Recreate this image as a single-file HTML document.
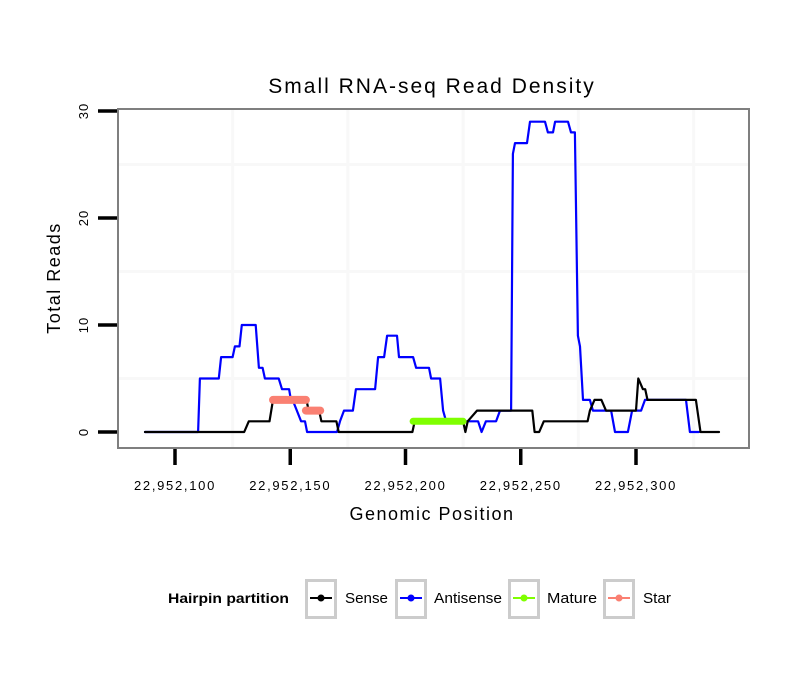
<!DOCTYPE html>
<html><head><meta charset="utf-8"><style>
body{margin:0;background:#fff;}
svg text{font-family:"Liberation Sans",sans-serif;}
</style></head><body>
<svg id="chart" width="810" height="690" viewBox="0 0 810 690" xmlns="http://www.w3.org/2000/svg">
<rect width="810" height="690" fill="#fff"/>
<text x="432" y="93" font-size="21" letter-spacing="2" text-anchor="middle">Small RNA-seq Read Density</text>
<g id="grid"></g>
<g id="series"></g>
<rect x="118" y="109" width="631" height="339" fill="none" stroke="#7f7f7f" stroke-width="2"/>
<g id="axes"></g>
<text x="432" y="520" font-size="18" letter-spacing="1.5" text-anchor="middle">Genomic Position</text>
<text transform="translate(60,278) rotate(-90)" font-size="18" letter-spacing="1.5" text-anchor="middle">Total Reads</text>
<g>
<text x="168" y="603" font-size="14" font-weight="bold" textLength="121" lengthAdjust="spacingAndGlyphs">Hairpin partition</text>
<g><rect x="306.5" y="580.5" width="29" height="37" fill="#fff" stroke="#ccc" stroke-width="3"/><line x1="310" y1="598" x2="332" y2="598" stroke="#000" stroke-width="2"/><circle cx="321" cy="598" r="3.5" fill="#000"/><text x="345" y="603" font-size="15" textLength="43" lengthAdjust="spacingAndGlyphs">Sense</text></g>
<g><rect x="396.5" y="580.5" width="29" height="37" fill="#fff" stroke="#ccc" stroke-width="3"/><line x1="400" y1="598" x2="422" y2="598" stroke="#0000ff" stroke-width="2"/><circle cx="411" cy="598" r="3.5" fill="#0000ff"/><text x="434" y="603" font-size="15" textLength="68" lengthAdjust="spacingAndGlyphs">Antisense</text></g>
<g><rect x="509.5" y="580.5" width="29" height="37" fill="#fff" stroke="#ccc" stroke-width="3"/><line x1="513" y1="598" x2="535" y2="598" stroke="#7fff00" stroke-width="2"/><circle cx="524" cy="598" r="3.5" fill="#7fff00"/><text x="547" y="603" font-size="15" textLength="50" lengthAdjust="spacingAndGlyphs">Mature</text></g>
<g><rect x="604.5" y="580.5" width="29" height="37" fill="#fff" stroke="#ccc" stroke-width="3"/><line x1="608" y1="598" x2="630" y2="598" stroke="#fa8072" stroke-width="2"/><circle cx="619" cy="598" r="3.5" fill="#fa8072"/><text x="643" y="603" font-size="15" textLength="28" lengthAdjust="spacingAndGlyphs">Star</text></g>
</g>
</svg>
<script>
const BASE = 22952000;
const xTicks = [100,150,200,250,300];
const xTickLabels = ["22,952,100","22,952,150","22,952,200","22,952,250","22,952,300"];
const yTicks = [0,10,20,30];
const xMinorGrid = [125,175,225,275,325];
const yMinorGrid = [5,15,25];
const sensePos = [87,130,132,141,142.5,157,158,162.5,163.5,170,171,203,204,225,226,227,231,255,256,258,260,279,280,282,285,287,300,301,303,304,305,326,328,336];
const senseVal = [0,0,1,1,3,3,2,2,1,1,0,0,1,1,0,1,2,2,0,0,1,1,2,3,3,2,2,5,4,4,3,3,0,0];
const antiPos = [87,110,110.8,119,120,125,126,128,129,135,136.4,138,139,145,146.4,149.5,150.3,151,154.7,156.4,157.3,170.3,171.6,173.3,177.2,178.5,186.8,188.1,190.7,192,196.3,197.2,203.3,204.6,210.2,211.1,215,216.3,217.6,231.5,233,234.9,239.3,241,245.8,246.6,247.5,252.7,254,260.5,261.8,264,264.9,270.5,271.8,273.5,274.8,275.7,277,280,281.3,289.2,290.9,296.5,298.3,302.2,303.9,321.7,323.4,327.3];
const antiVal = [0,0,5,5,7,7,8,8,10,10,6,6,5,5,4,4,3,3,1,1,0,0,1,2,2,4,4,7,7,9,9,7,7,6,6,5,5,2,1,1,0,1,1,2,2,26,27,27,29,29,28,28,29,29,28,28,9,8,3,3,2,2,0,0,2,2,3,3,0,0];
const maturePos = [203.3,225];
const matureVal = [1,1];
const starPos = [[142.5,156.8],[156.8,163]];
const starVal = [3,2];

const NS = "http://www.w3.org/2000/svg";
function xs(p){return 175 + (p-100)*2.305;}
function ys(v){return 432 - v*10.7;}
function mk(tag, attrs, parent){const e=document.createElementNS(NS,tag);for(const k in attrs)e.setAttribute(k,attrs[k]);parent.appendChild(e);return e;}
const grid=document.getElementById('grid'), series=document.getElementById('series'), axes=document.getElementById('axes');
xMinorGrid.forEach(p=>{const l=mk('line',{x1:xs(p),x2:xs(p),y1:110,y2:447,stroke:'#f8f8f8','stroke-width':3},grid);

});
yMinorGrid.forEach(v=>{const l=mk('line',{x1:119,x2:748,y1:ys(v),y2:ys(v),stroke:'#f8f8f8','stroke-width':3},grid);

});
function poly(pos,val,color,w,name){
  const pts=pos.map((p,i)=>xs(p).toFixed(1)+','+ys(val[i]).toFixed(1)).join(' ');
  const e=mk('polyline',{points:pts,fill:'none',stroke:color,'stroke-width':w,'stroke-linejoin':'round','stroke-linecap':'round'},series);
  
  
}
poly(antiPos,antiVal,'#0000ff',2.2,'antisense-line');
poly(sensePos,senseVal,'#000',2.2,'sense-line');
poly(maturePos,matureVal,'#7fff00',7,'mature-segment');
starPos.forEach((s,i)=>poly(s,[starVal[i],starVal[i]],'#fa8072',8,'star-segment'));
xTicks.forEach((t,i)=>{
  const l=mk('line',{x1:xs(t),x2:xs(t),y1:449,y2:465,stroke:'#000','stroke-width':3.5},axes);
  
  
  const tx=mk('text',{x:xs(t),y:490,'font-size':13,'letter-spacing':1.7,'text-anchor':'middle'},axes);
  tx.textContent=xTickLabels[i];
  
  
});
yTicks.forEach(t=>{
  const l=mk('line',{x1:98,x2:117,y1:ys(t),y2:ys(t),stroke:'#000','stroke-width':3.5},axes);
  
  
  const tx=mk('text',{transform:`translate(88,${ys(t)}) rotate(-90)`,'font-size':13,'letter-spacing':1,'text-anchor':'middle'},axes);
  tx.textContent=String(t);
  
  
});
</script>
</body></html>
